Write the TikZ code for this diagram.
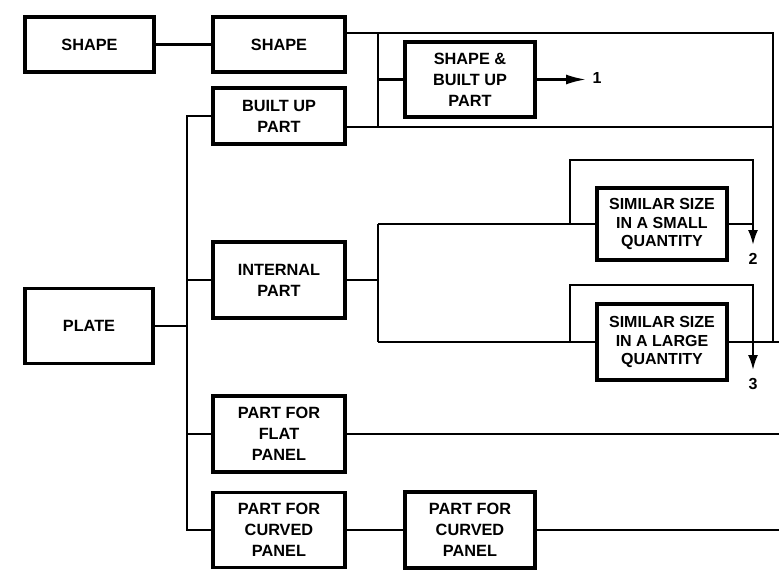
\documentclass[tikz,border=0pt]{standalone}
\usepackage{fontspec}
\setmainfont{Liberation Sans}
\usetikzlibrary{arrows.meta}
\begin{document}
\begin{tikzpicture}[x=1pt,y=-1pt,
  box/.style={draw, line width=3.4pt, align=center, inner sep=0pt,
    font=\bfseries\fontsize{16.3}{21}\selectfont},
  tbox/.style={box, font=\bfseries\fontsize{16}{18.5}\selectfont},
  ln/.style={line width=2.3pt},
  lbl/.style={font=\bfseries\fontsize{16}{18}\selectfont, inner sep=0pt},
  arr/.style={ln, -{Latex[length=20pt,width=10pt]}},
  varr/.style={ln, -{Latex[length=15pt,width=10pt]}}]
\useasboundingbox (0,0) rectangle (779,575);

% boxes
\node[box, minimum width=129pt, minimum height=55pt] (shape1) at (89.5,44.5) {SHAPE};
\node[box, minimum width=132pt, minimum height=55pt] (shape2) at (279,44.5) {SHAPE};
\node[box, minimum width=132pt, minimum height=56pt] (built) at (279,116) {BUILT UP\\PART};
\node[box, minimum width=130pt, minimum height=75pt] (sb) at (470,79.5) {SHAPE \&\\BUILT UP\\PART};
\node[box, minimum width=128pt, minimum height=75pt] (plate) at (89,326) {PLATE};
\node[box, minimum width=132pt, minimum height=76pt] (internal) at (279,280) {INTERNAL\\PART};
\node[tbox, minimum width=130pt, minimum height=72pt] (small) at (662,224) {SIMILAR SIZE\\IN A SMALL\\QUANTITY};
\node[tbox, minimum width=130pt, minimum height=76pt] (large) at (662,342) {SIMILAR SIZE\\IN A LARGE\\QUANTITY};
\node[box, minimum width=132pt, minimum height=76pt] (flat) at (279,434) {PART FOR\\FLAT\\PANEL};
\node[box, minimum width=132pt, minimum height=75pt] (curved1) at (279,530) {PART FOR\\CURVED\\PANEL};
\node[box, minimum width=130pt, minimum height=76pt] (curved2) at (470,530) {PART FOR\\CURVED\\PANEL};

% labels
\node[lbl] (l1) at (597,78) {1};
\node[lbl] (l2) at (753,259) {2};
\node[lbl] (l3) at (753,384) {3};

% coordinates
\coordinate (rT) at (773,33);
\coordinate (rM) at (773,127);
\coordinate (v1) at (378,33);
\coordinate (v2) at (378,127);
\coordinate (bT) at (187,116);
\coordinate (bB) at (187,530);
\coordinate (iT) at (378,224);
\coordinate (iB) at (378,342);
\coordinate (a1) at (586,79.5);
\coordinate (eF) at (779,434);
\coordinate (eC) at (779,530);
\coordinate (eL) at (779,342);
\coordinate (sL) at (570,224);
\coordinate (sTopL) at (570,160);
\coordinate (sTopR) at (753,160);
\coordinate (sTip) at (753,245);
\coordinate (sR) at (753,224);
\coordinate (gL) at (570,342);
\coordinate (gTopL) at (570,285);
\coordinate (gTopR) at (753,285);
\coordinate (gTip) at (753,370);

% connectors
\draw[ln] (shape1.east) -- (shape2.west);
\draw[ln] (shape2.east |- rT) -- (rT) -- (eL -| rT);
\draw[ln] (v1) -- (v2);
\draw[ln] (built.east |- v2) -- (rM);
\draw[ln] (v1 |- sb.west) -- (sb.west);
\draw[arr] (sb.east) -- (a1);
\draw[ln] (built.west) -- (bT) -- (bB) -- (curved1.west);
\draw[ln] (plate.east) -- (plate.east -| bT);
\draw[ln] (internal.west) -- (internal.west -| bT);
\draw[ln] (flat.west) -- (flat.west -| bT);
\draw[ln] (flat.east) -- (eF);
\draw[ln] (curved1.east) -- (curved2.west);
\draw[ln] (curved2.east) -- (eC);
\draw[ln] (internal.east) -- (internal.east -| iT);
\draw[ln] (iT) -- (iB);
\draw[ln] (iT) -- (small.west);
\draw[ln] (iB) -- (large.west);
\draw[ln] (small.east) -- (sR);
\draw[ln] (large.east) -- (eL);
\draw[varr] (sL) -- (sTopL) -- (sTopR) -- (sTip);
\draw[varr] (gL) -- (gTopL) -- (gTopR) -- (gTip);
\end{tikzpicture}
\end{document}
